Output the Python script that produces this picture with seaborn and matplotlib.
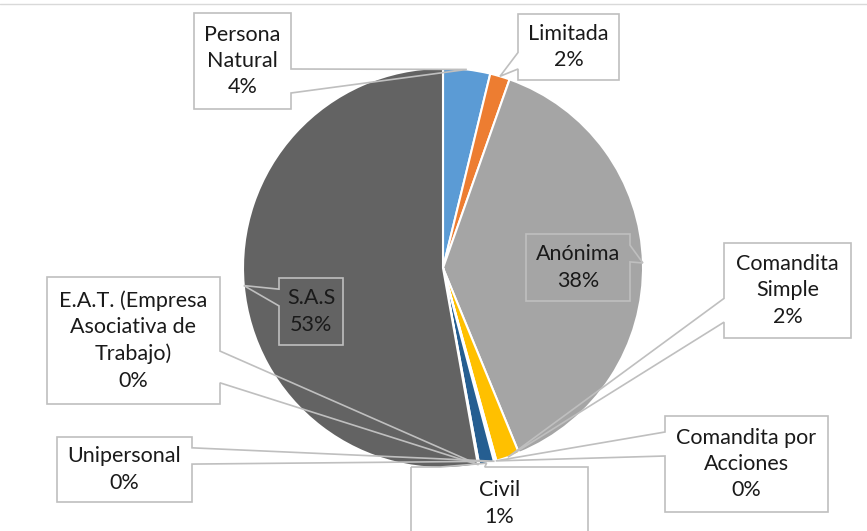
import numpy as np
import seaborn as sns
import matplotlib.pyplot as plt
from matplotlib.patches import Polygon

# datos del grafico (tipo de sociedad, porcentaje)
tipos = ["Persona\nNatural", "Limitada", "Anónima", "Comandita\nSimple",
         "Comandita por\nAcciones", "Unipersonal", "Civil",
         "E.A.T. (Empresa\nAsociativa de\nTrabajo)", "S.A.S"]
porcentajes = [3.8, 1.6, 38.4, 1.9, 0.1, 0.1, 1.2, 0.1, 52.8]
colores = ["#5B9BD5", "#ED7D31", "#A5A5A5", "#FFC000", "#4472C4",
           "#70AD47", "#255E91", "#9E480E", "#636363"]

# cajas de las etiquetas en pixeles de la imagen (x0, y0, x1, y1)
cajas = [(194, 13, 291, 109), (518, 14, 619, 80), (526, 234, 630, 301),
         (724, 243, 851, 338), (665, 416, 828, 512), (57, 437, 192, 502),
         (411, 467, 588, 540), (47, 277, 220, 404), (279, 278, 343, 345)]

W, H = 867, 531

sns.set_theme(style="white")
plt.rcParams['font.family'] = ['Lato', 'DejaVu Sans']

fig = plt.figure(figsize=(W / 100, H / 100), dpi=100)
ax = fig.add_axes([0, 0, 1, 1])

wedges, _ = ax.pie(porcentajes, colors=colores, startangle=90, counterclock=False,
                   center=(443, H - 268), radius=200,
                   wedgeprops=dict(edgecolor="white", linewidth=1.5))
ax.set_xlim(0, W)
ax.set_ylim(0, H)
ax.set_aspect("equal")
ax.axis("off")


def callout(caja, apex):
    # forma tipo "wedgeRectCallout" de Excel, en coordenadas de imagen
    x0, y0, x1, y1 = caja
    w, h = x1 - x0, y1 - y0
    dx, dy = apex[0] - (x0 + w / 2), apex[1] - (y0 + h / 2)
    if abs(dy) > abs(dx) * h / w:
        xa = x0 + w * (7 / 12 if dx > 0 else 2 / 12)
        xb = x0 + w * (10 / 12 if dx > 0 else 5 / 12)
        if dy < 0:
            pts = [(x0, y0), (xa, y0), apex, (xb, y0), (x1, y0), (x1, y1), (x0, y1)]
        else:
            pts = [(x0, y0), (x1, y0), (x1, y1), (xb, y1), apex, (xa, y1), (x0, y1)]
    else:
        ya = y0 + h * (7 / 12 if dy > 0 else 2 / 12)
        yb = y0 + h * (10 / 12 if dy > 0 else 5 / 12)
        if dx > 0:
            pts = [(x0, y0), (x1, y0), (x1, ya), apex, (x1, yb), (x1, y1), (x0, y1)]
        else:
            pts = [(x0, y0), (x1, y0), (x1, y1), (x0, y1), (x0, yb), apex, (x0, ya)]
    return [(px, H - py) for px, py in pts]


for wd, tipo, p, caja in zip(wedges, tipos, porcentajes, cajas):
    ang = np.radians((wd.theta1 + wd.theta2) / 2)
    cx, cy = wd.center
    apex = (cx + wd.r * np.cos(ang), H - (cy + wd.r * np.sin(ang)))
    ax.add_patch(Polygon(callout(caja, apex), closed=True, fill=False,
                         edgecolor="#BFBFBF", linewidth=1.2, zorder=3))
    ax.text((caja[0] + caja[2]) / 2, H - (caja[1] + caja[3]) / 2,
            "{}\n{:.0f}%".format(tipo, p), ha="center", va="center",
            fontsize=15.5, color="#1a1a1a", linespacing=1.4, zorder=4)

# borde superior del area del grafico
ax.plot([0, W], [H - 4, H - 4], color="#D9D9D9", linewidth=1)

fig.savefig("out.png", dpi=100)
